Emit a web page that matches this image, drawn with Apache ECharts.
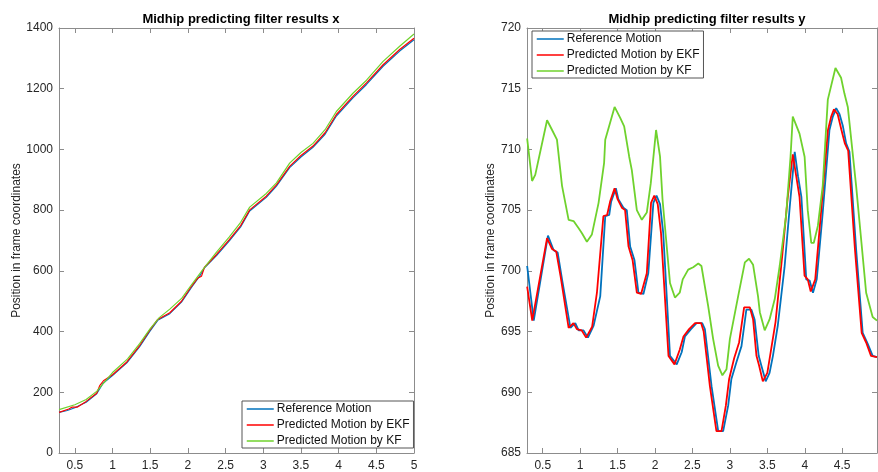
<!DOCTYPE html>
<html>
<head>
<meta charset="utf-8">
<script src="https://cdn.jsdelivr.net/npm/echarts@6/dist/echarts.min.js"></script>
<style>
  html, body { margin: 0; padding: 0; background: #fff; }
  #chart { width: 878px; height: 472px; }
</style>
</head>
<body>
<div id="chart"></div>
<script>
// --- x position (left plot), time in s ---
let xRefT = [0.29, 0.4, 0.5, 0.65, 0.79, 0.875, 1.0, 1.19, 1.36, 1.49, 1.6, 1.76, 1.915, 2.05, 2.16, 2.22, 2.38, 2.55, 2.7, 2.82, 3.04, 3.175, 3.35, 3.5, 3.66, 3.82, 3.97, 4.19, 4.37, 4.59, 4.81, 5.0];
let xRefV = [134, 140, 149, 167, 195, 230, 255, 297, 350, 399, 437, 459, 497, 546, 584, 610, 650, 699, 745, 797, 842, 879, 940, 975, 1007, 1050, 1110, 1170, 1214, 1274, 1324, 1361];
let xEkfT = [0.29, 0.42, 0.46, 0.53, 0.65, 0.79, 0.83, 0.88, 1.0, 1.19, 1.36, 1.49, 1.6, 1.76, 1.915, 2.05, 2.13, 2.18, 2.22, 2.38, 2.55, 2.7, 2.82, 3.04, 3.175, 3.35, 3.5, 3.66, 3.82, 3.97, 4.19, 4.37, 4.59, 4.81, 5.0];
let xEkfV = [134, 145, 151, 151, 170, 197, 222, 238, 258, 300, 354, 403, 440, 462, 500, 550, 576, 582, 612, 654, 703, 749, 801, 846, 883, 944, 980, 1011, 1055, 1115, 1175, 1219, 1279, 1329, 1366];
let xKfT = [0.29, 0.5, 0.65, 0.79, 1.0, 1.2, 1.36, 1.5, 1.62, 1.76, 1.92, 2.05, 2.2, 2.38, 2.55, 2.7, 2.82, 3.04, 3.175, 3.35, 3.5, 3.66, 3.82, 3.97, 4.19, 4.37, 4.59, 4.81, 5.0];
let xKfV = [143, 159, 176, 203, 265, 310, 360, 410, 446, 474, 510, 555, 605, 662, 712, 760, 810, 855, 890, 955, 990, 1020, 1065, 1125, 1185, 1228, 1290, 1340, 1380];

// --- y position (right plot) ---
let yRefT = [0.292, 0.38, 0.57, 0.646, 0.70, 0.758, 0.87, 0.935, 0.98, 1.045, 1.104, 1.18, 1.268, 1.335, 1.388, 1.414, 1.477, 1.51, 1.578, 1.623, 1.668, 1.725, 1.778, 1.845, 1.91, 1.978, 2.02, 2.067, 2.11, 2.2, 2.29, 2.356, 2.4, 2.48, 2.555, 2.63, 2.666, 2.755, 2.844, 2.91, 2.977, 3.02, 3.088, 3.155, 3.22, 3.288, 3.33, 3.385, 3.42, 3.478, 3.53, 3.575, 3.64, 3.73, 3.80, 3.866, 3.91, 3.955, 4.02, 4.065, 4.11, 4.16, 4.24, 4.33, 4.375, 4.42, 4.465, 4.51, 4.553, 4.597, 4.686, 4.774, 4.84, 4.907, 4.965];
let yRefV = [700.4, 695.9, 702.9, 701.7, 701.5, 699.3, 695.3, 695.7, 695.1, 695.1, 694.5, 695.5, 697.9, 704.5, 704.6, 705.7, 706.8, 705.9, 705.2, 705.0, 702.0, 700.9, 698.2, 698.1, 699.8, 705.6, 706.2, 705.5, 703.1, 693.0, 692.3, 693.3, 694.6, 695.2, 695.7, 695.7, 695.2, 690.5, 686.8, 686.8, 688.9, 691.1, 692.5, 693.8, 696.8, 696.8, 696.0, 693.0, 692.2, 690.9, 691.6, 693.0, 695.5, 700.3, 705.3, 709.8, 707.8, 706.1, 699.3, 699.2, 698.2, 699.3, 704.8, 711.6, 712.7, 713.4, 712.9, 711.9, 710.5, 709.8, 701.8, 694.9, 694.0, 693.0, 692.9];
let yEkfT = [0.292, 0.36, 0.558, 0.625, 0.68, 0.74, 0.846, 0.91, 0.956, 1.02, 1.08, 1.16, 1.224, 1.31, 1.36, 1.40, 1.46, 1.50, 1.557, 1.60, 1.646, 1.70, 1.757, 1.814, 1.89, 1.947, 1.99, 2.036, 2.08, 2.18, 2.26, 2.33, 2.38, 2.455, 2.535, 2.615, 2.65, 2.733, 2.82, 2.888, 2.946, 2.99, 3.057, 3.123, 3.19, 3.266, 3.31, 3.355, 3.39, 3.44, 3.50, 3.545, 3.61, 3.70, 3.77, 3.84, 3.886, 3.93, 3.997, 4.04, 4.08, 4.14, 4.22, 4.31, 4.353, 4.39, 4.44, 4.49, 4.535, 4.58, 4.67, 4.76, 4.82, 4.885, 4.965];
let yEkfV = [698.7, 695.9, 702.7, 701.8, 701.6, 699.5, 695.3, 695.7, 695.2, 695.1, 694.5, 695.4, 698.2, 704.5, 704.6, 705.7, 706.8, 705.9, 705.2, 705.0, 702.0, 700.9, 698.2, 698.1, 699.8, 705.6, 706.2, 705.5, 703.1, 693.0, 692.3, 693.5, 694.6, 695.2, 695.7, 695.7, 695.0, 690.5, 686.8, 686.8, 688.9, 691.1, 692.8, 694.1, 697.0, 697.0, 696.0, 693.0, 692.2, 690.9, 691.6, 693.3, 695.8, 701.3, 705.9, 709.6, 707.8, 706.1, 699.6, 699.3, 698.3, 699.3, 705.0, 711.6, 712.7, 713.3, 712.9, 711.6, 710.5, 709.9, 701.8, 694.9, 694.1, 693.0, 692.9];
let yKfT = [0.292, 0.358, 0.40, 0.558, 0.625, 0.69, 0.758, 0.846, 0.912, 0.98, 1.024, 1.09, 1.157, 1.246, 1.32, 1.335, 1.46, 1.535, 1.588, 1.655, 1.69, 1.757, 1.824, 1.89, 1.943, 1.987, 2.014, 2.067, 2.10, 2.2, 2.266, 2.33, 2.37, 2.443, 2.51, 2.578, 2.62, 2.71, 2.776, 2.843, 2.9, 2.955, 3.0, 3.11, 3.2, 3.256, 3.31, 3.376, 3.4, 3.465, 3.53, 3.6, 3.665, 3.75, 3.81, 3.84, 3.93, 3.998, 4.04, 4.087, 4.12, 4.175, 4.24, 4.308, 4.41, 4.485, 4.53, 4.575, 4.64, 4.686, 4.82, 4.907, 4.965];
let yKfV = [710.9, 707.4, 707.9, 712.4, 711.6, 710.8, 707.0, 704.2, 704.1, 703.5, 703.1, 702.4, 703.0, 705.6, 708.9, 710.8, 713.5, 712.6, 711.9, 709.4, 708.3, 705.0, 704.2, 704.8, 707.2, 709.9, 711.6, 709.4, 705.9, 699.0, 697.8, 698.2, 699.3, 700.1, 700.3, 700.6, 700.4, 697.1, 694.4, 692.2, 691.4, 691.9, 694.4, 697.9, 700.7, 701.0, 700.5, 697.9, 696.6, 695.1, 696.0, 697.7, 700.4, 704.5, 709.4, 712.7, 711.3, 709.4, 705.0, 702.3, 702.3, 703.7, 707.0, 714.1, 716.7, 715.9, 714.6, 713.5, 709.7, 707.0, 698.2, 696.2, 695.9];

// tick labels
let timeTicks = [0.5, 1, 1.5, 2, 2.5, 3, 3.5, 4, 4.5, 5];
let names = ['Reference Motion', 'Predicted Motion by EKF', 'Predicted Motion by KF'];
let colors = ['#0072BD', '#FF0000', '#6FD22D'];

function zip(t, v) {
    return t.map((tt, i) => [tt, v[i]]);
}

let axisGray = '#8c8c8c';
let textGray = '#262626';
let font = 'Liberation Sans, Arial, sans-serif';

function xAxes(grid, min, max) {
    let base = {
        gridIndex: grid, type: 'value', min: min, max: max,
        axisLine: { show: true, onZero: false, lineStyle: { color: axisGray, width: 1 } },
        axisTick: { show: true, inside: true, length: 5, customValues: timeTicks.filter(v => v <= max), lineStyle: { color: axisGray } },
        splitLine: { show: false }
    };
    return [
        Object.assign({}, base, {
            position: 'bottom',
            axisLabel: { show: true, customValues: timeTicks.filter(v => v <= max), color: textGray, fontSize: 12, fontFamily: font, margin: 7 }
        }),
        Object.assign({}, base, { position: 'top', axisLabel: { show: false } })
    ];
}

function yAxes(grid, min, max, step) {
    let base = {
        gridIndex: grid, type: 'value', min: min, max: max, interval: step,
        axisLine: { show: true, onZero: false, lineStyle: { color: axisGray, width: 1 } },
        axisTick: { show: true, inside: true, length: 5, lineStyle: { color: axisGray } },
        splitLine: { show: false }
    };
    return [
        Object.assign({}, base, {
            position: 'left',
            name: 'Position in frame coordinates', nameLocation: 'middle', nameGap: 28,
            nameTextStyle: { color: textGray, fontSize: 12, fontFamily: font },
            axisLabel: { color: textGray, fontSize: 12, fontFamily: font, margin: 6, formatter: v => String(v) }
        }),
        Object.assign({}, base, { position: 'right', axisLabel: { show: false } })
    ];
}

function series(grid, sets, width) {
    return sets.map((d, i) => ({
        name: names[i], type: 'line', xAxisIndex: grid * 2, yAxisIndex: grid * 2,
        data: d, symbol: 'none', smooth: false, animation: false,
        lineStyle: { color: colors[i], width: width }, itemStyle: { color: colors[i] }
    }));
}

function legend(left, top) {
    return {
        left: left, top: top, orient: 'vertical', data: names,
        itemWidth: 27, itemHeight: 10, itemGap: 4,
        itemStyle: { opacity: 0 },
        lineStyle: { width: 1.5 },
        backgroundColor: '#fff', borderColor: '#555', borderWidth: 1, borderRadius: 0,
        padding: [2, 4, 1, 4], selectedMode: false,
        textStyle: { color: '#111', fontSize: 12, fontFamily: font, padding: [0, 0, 0, -2] }
    };
}

let chart = echarts.init(document.getElementById('chart'), null, { renderer: 'canvas' });
chart.setOption({
    animation: false,
    backgroundColor: '#fff',
    title: [
        { text: 'Midhip predicting filter results x', left: 236, top: 8, textAlign: 'center',
          textStyle: { fontSize: 13, fontWeight: 'bold', color: '#000', fontFamily: font } },
        { text: 'Midhip predicting filter results y', left: 702, top: 8, textAlign: 'center',
          textStyle: { fontSize: 13, fontWeight: 'bold', color: '#000', fontFamily: font } }
    ],
    grid: [
        { left: 59, top: 28, width: 355, height: 426 },
        { left: 527, top: 28, width: 350, height: 426 }
    ],
    xAxis: xAxes(0, 0.29, 5).concat(xAxes(1, 0.29, 4.965)),
    yAxis: yAxes(0, 0, 1400, 200).concat(yAxes(1, 685, 720, 5)),
    legend: [legend(242, 401), legend(532, 31)],
    series: series(0, [zip(xRefT, xRefV), zip(xEkfT, xEkfV), zip(xKfT, xKfV)], 1.2)
        .concat(series(1, [zip(yRefT, yRefV), zip(yEkfT, yEkfV), zip(yKfT, yKfV)], 1.8))
});
</script>
</body>
</html>
